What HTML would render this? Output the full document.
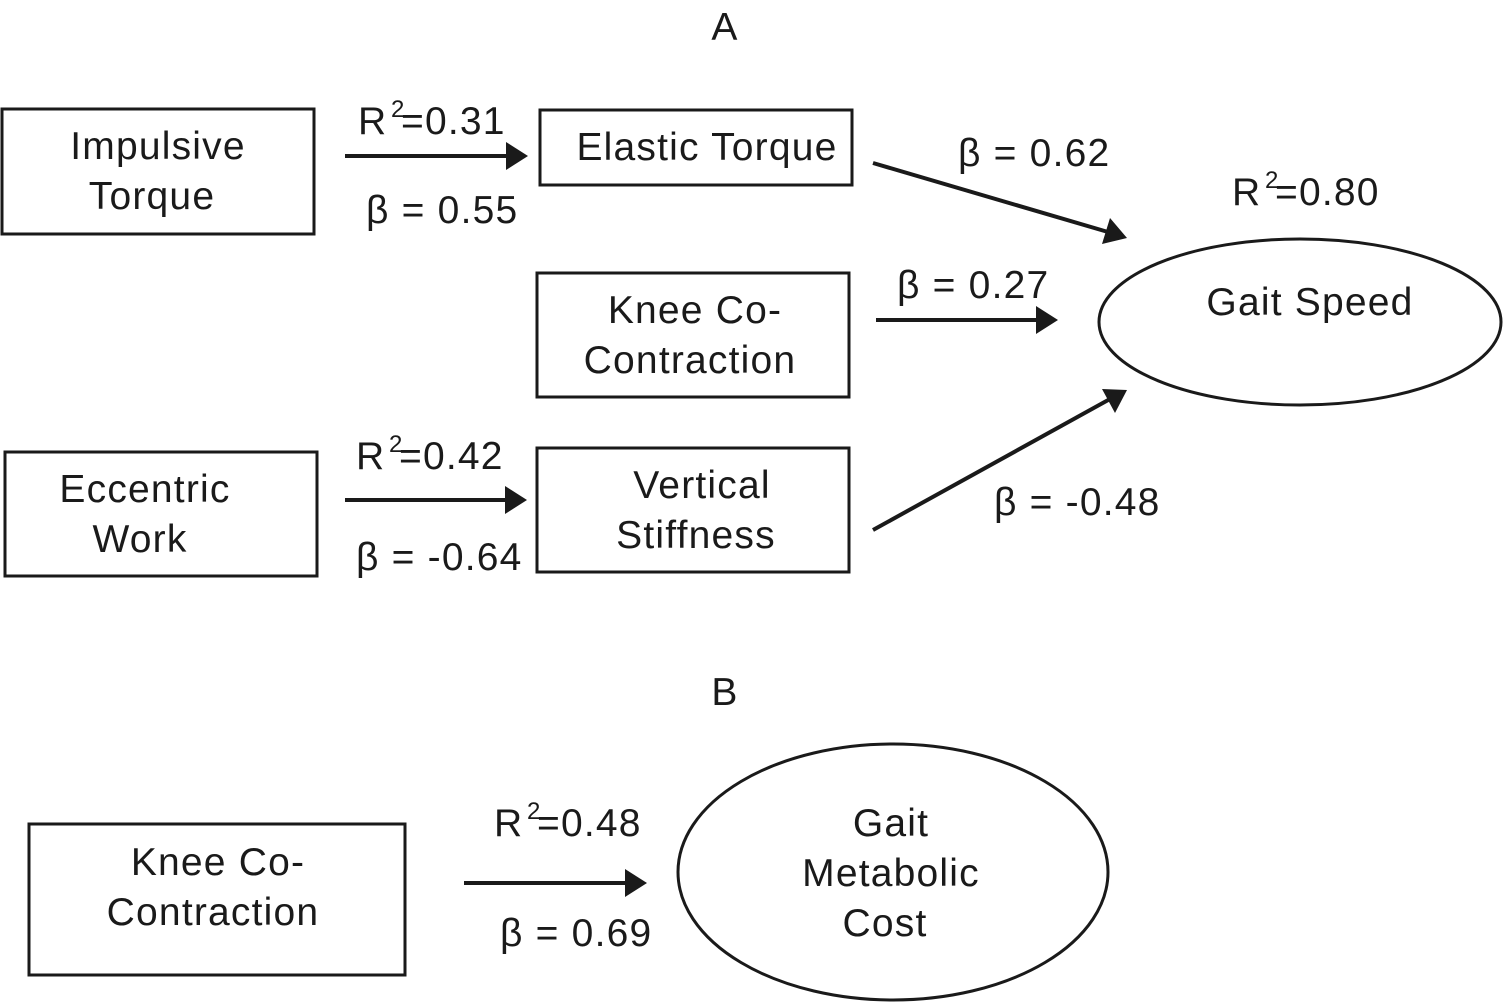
<!DOCTYPE html>
<html><head><meta charset="utf-8"><style>
html,body{margin:0;padding:0;background:#fff;}
svg{display:block;}
text{font-family:"Liberation Sans",sans-serif;font-size:39px;letter-spacing:1.2px;fill:#1a1a1a;}
</style></head><body>
<svg width="1503" height="1006" viewBox="0 0 1503 1006" xmlns="http://www.w3.org/2000/svg">
<g fill="none" stroke="#1a1a1a" stroke-width="3">
<rect x="2" y="109" width="312" height="125"/>
<rect x="540" y="110" width="312" height="75"/>
<rect x="537" y="273" width="312" height="124"/>
<rect x="5" y="452" width="312" height="124"/>
<rect x="537" y="448" width="312" height="124"/>
<ellipse cx="1300" cy="322" rx="201" ry="83"/>
<rect x="29" y="824" width="376" height="151"/>
<ellipse cx="893" cy="872" rx="215" ry="128"/>
</g>
<g stroke="#1a1a1a" stroke-width="4">
<line x1="345" y1="156" x2="508" y2="156"/>
<line x1="873" y1="163" x2="1108" y2="232"/>
<line x1="876" y1="320" x2="1038" y2="320"/>
<line x1="345" y1="500" x2="507" y2="500"/>
<line x1="873" y1="530" x2="1110" y2="399"/>
<line x1="464" y1="883" x2="627" y2="883"/>
</g>
<g fill="#1a1a1a">
<polygon points="528,156 506,142 506,170"/>
<polygon points="1058,320 1036,306 1036,334"/>
<polygon points="527,500 505,486 505,514"/>
<polygon points="647,883 625,869 625,897"/>
<polygon points="1127,238 1102,244 1110,218"/>
<polygon points="1127,390 1115,413 1102,389"/>
</g>
<text x="725" y="40" text-anchor="middle">A</text>
<text x="725" y="705" text-anchor="middle">B</text>
<text x="158" y="159" text-anchor="middle">Impulsive</text>
<text x="152" y="209" text-anchor="middle">Torque</text>
<text x="707" y="160" text-anchor="middle">Elastic Torque</text>
<text x="695" y="323" text-anchor="middle">Knee Co-</text>
<text x="690" y="373" text-anchor="middle">Contraction</text>
<text x="145" y="502" text-anchor="middle">Eccentric</text>
<text x="140" y="552" text-anchor="middle">Work</text>
<text x="702" y="498" text-anchor="middle">Vertical</text>
<text x="696" y="548" text-anchor="middle">Stiffness</text>
<text x="1310" y="315" text-anchor="middle">Gait Speed</text>
<text x="218" y="875" text-anchor="middle">Knee Co-</text>
<text x="213" y="925" text-anchor="middle">Contraction</text>
<text x="891" y="836" text-anchor="middle">Gait</text>
<text x="891" y="886" text-anchor="middle">Metabolic</text>
<text x="885" y="936" text-anchor="middle">Cost</text>
<text x="358" y="134">R</text><text x="391" y="117" style="font-size:24px">2</text><text x="401" y="134">=0.31</text>
<text x="366" y="223">β = 0.55</text>
<text x="958" y="166">β = 0.62</text>
<text x="1232" y="205">R</text><text x="1265" y="188" style="font-size:24px">2</text><text x="1275" y="205">=0.80</text>
<text x="897" y="298">β = 0.27</text>
<text x="356" y="469">R</text><text x="389" y="452" style="font-size:24px">2</text><text x="399" y="469">=0.42</text>
<text x="356" y="570">β = -0.64</text>
<text x="994" y="515">β = -0.48</text>
<text x="494" y="836">R</text><text x="527" y="819" style="font-size:24px">2</text><text x="537" y="836">=0.48</text>
<text x="500" y="946">β = 0.69</text>
</svg>
</body></html>
